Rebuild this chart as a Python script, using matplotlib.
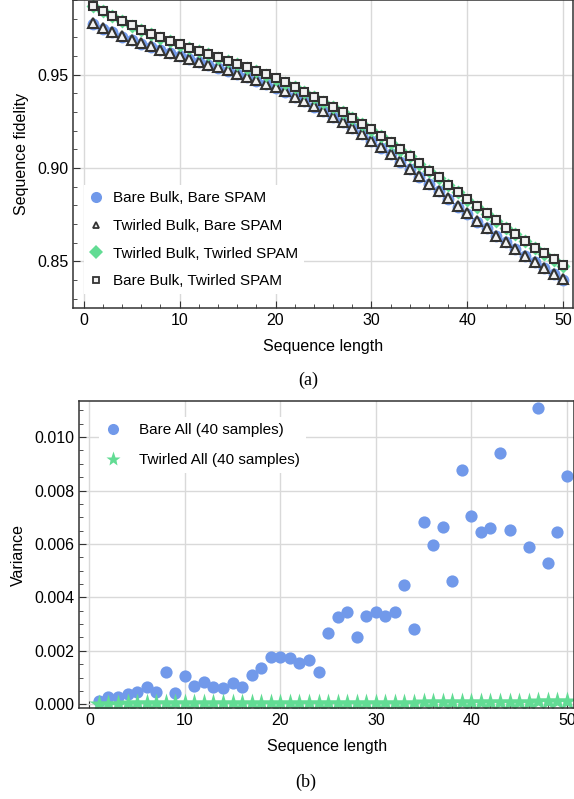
import numpy as np
import matplotlib
matplotlib.use("Agg")
import matplotlib.pyplot as plt

plt.rcParams['font.family'] = ['Liberation Sans', 'DejaVu Sans']
plt.rcParams['font.size'] = 11.5

# %% data
seq_len = np.arange(1, 51)

# (a) sequence fidelity
twirled_bulk_bare_spam = [
    0.9775, 0.9750, 0.9730, 0.9707, 0.9687, 0.9668, 0.9652, 0.9634, 0.9618, 0.9602,
    0.9586, 0.9570, 0.9554, 0.9539, 0.9523, 0.9505, 0.9488, 0.9469, 0.9452, 0.9432,
    0.9411, 0.9382, 0.9361, 0.9332, 0.9306, 0.9275, 0.9247, 0.9215, 0.9183, 0.9147,
    0.9111, 0.9076, 0.9035, 0.8996, 0.8955, 0.8917, 0.8878, 0.8839, 0.8795, 0.8758,
    0.8715, 0.8679, 0.8638, 0.8606, 0.8567, 0.8531, 0.8499, 0.8465, 0.8433, 0.8403]
bare_bulk_bare_spam = [
    0.9772, 0.9747, 0.9727, 0.9704, 0.9684, 0.9665, 0.9649, 0.9631, 0.9615, 0.9599,
    0.9583, 0.9567, 0.9551, 0.9536, 0.9520, 0.9502, 0.9485, 0.9466, 0.9449, 0.9429,
    0.9408, 0.9379, 0.9358, 0.9329, 0.9303, 0.9272, 0.9244, 0.9212, 0.9180, 0.9144,
    0.9108, 0.9073, 0.9032, 0.8993, 0.8952, 0.8914, 0.8875, 0.8836, 0.8792, 0.8755,
    0.8712, 0.8676, 0.8635, 0.8603, 0.8564, 0.8528, 0.8496, 0.8462, 0.8430, 0.8400]
bare_bulk_twirled_spam = [
    0.9869, 0.9841, 0.9814, 0.9787, 0.9764, 0.9739, 0.9719, 0.9700, 0.9680, 0.9662,
    0.9644, 0.9627, 0.9611, 0.9593, 0.9575, 0.9557, 0.9539, 0.9520, 0.9502, 0.9480,
    0.9459, 0.9436, 0.9409, 0.9382, 0.9357, 0.9329, 0.9302, 0.9270, 0.9238, 0.9207,
    0.9174, 0.9138, 0.9100, 0.9065, 0.9025, 0.8986, 0.8951, 0.8910, 0.8874, 0.8833,
    0.8794, 0.8758, 0.8719, 0.8679, 0.8647, 0.8610, 0.8573, 0.8544, 0.8510, 0.8478]
twirled_bulk_twirled_spam = [
    0.9867, 0.9839, 0.9812, 0.9785, 0.9762, 0.9737, 0.9717, 0.9698, 0.9678, 0.9660,
    0.9642, 0.9625, 0.9609, 0.9591, 0.9573, 0.9555, 0.9537, 0.9518, 0.9500, 0.9478,
    0.9457, 0.9434, 0.9407, 0.9380, 0.9355, 0.9327, 0.9300, 0.9268, 0.9236, 0.9205,
    0.9172, 0.9136, 0.9098, 0.9063, 0.9023, 0.8984, 0.8949, 0.8908, 0.8872, 0.8831,
    0.8792, 0.8756, 0.8717, 0.8677, 0.8645, 0.8608, 0.8571, 0.8542, 0.8508, 0.8476]

# (b) variance over 40 samples
bare_all_var = [
    0.00013, 0.00028, 0.00028, 0.00037, 0.00045, 0.00063, 0.00044, 0.00119, 0.00043, 0.00106,
    0.00070, 0.00082, 0.00063, 0.00059, 0.00078, 0.00063, 0.00111, 0.00135, 0.00177, 0.00177,
    0.00172, 0.00154, 0.00166, 0.00121, 0.00268, 0.00326, 0.00344, 0.00253, 0.00329, 0.00346,
    0.00329, 0.00347, 0.00445, 0.00283, 0.00682, 0.00597, 0.00662, 0.00460, 0.00878, 0.00706,
    0.00646, 0.00660, 0.00941, 0.00652, 0.01220, 0.00587, 0.01108, 0.00528, 0.00646, 0.00854]
twirled_all_var = [
    0.00002, 0.00002, 0.00002, 0.00003, 0.00003, 0.00003, 0.00003, 0.00003, 0.00003, 0.00003,
    0.00003, 0.00003, 0.00003, 0.00003, 0.00003, 0.00004, 0.00004, 0.00004, 0.00004, 0.00004,
    0.00004, 0.00004, 0.00004, 0.00004, 0.00005, 0.00005, 0.00005, 0.00005, 0.00005, 0.00006,
    0.00006, 0.00006, 0.00006, 0.00006, 0.00007, 0.00007, 0.00007, 0.00007, 0.00008, 0.00008,
    0.00009, 0.00009, 0.00009, 0.00010, 0.00010, 0.00010, 0.00011, 0.00011, 0.00012, 0.00012]

blue = '#7199ea'
green = '#62dc94'
dark = '#333333'

fig = plt.figure(figsize=(5.74, 7.99), dpi=100)
ax1 = fig.add_axes([0.1272, 0.6145, 0.8711, 0.3855])
ax2 = fig.add_axes([0.1382, 0.1139, 0.8618, 0.3842])


def style(ax):
    ax.grid(True, color='#d9d9d9', lw=1.0)
    ax.set_axisbelow(True)
    for s in ax.spines.values():
        s.set_color(dark)
        s.set_linewidth(1.1)
    ax.tick_params(direction='in', which='both', color=dark, labelsize=11.5)
    ax.tick_params(which='major', length=5)
    ax.tick_params(which='minor', length=3)


# %% (a)
ax1.plot(seq_len, bare_bulk_bare_spam, 'o', ms=8.5, color=blue, mec='none', label='Bare Bulk, Bare SPAM')
ax1.plot(seq_len, twirled_bulk_bare_spam, '^', ms=6.5, mfc='#f2f2f2', mec=dark, mew=1.5,
         label='Twirled Bulk, Bare SPAM')
ax1.plot(seq_len, twirled_bulk_twirled_spam, 'D', ms=7.5, color=green, mec='none',
         label='Twirled Bulk, Twirled SPAM')
ax1.plot(seq_len, bare_bulk_twirled_spam, 's', ms=5.8, mfc='#f2f2f2', mec=dark, mew=1.5,
         label='Bare Bulk, Twirled SPAM')
ax1.set_xlim(-1.1, 51.0)
ax1.set_ylim(0.825, 0.9896)
ax1.set_xticks(range(0, 51, 10))
ax1.set_xticks(range(0, 51, 2), minor=True)
ax1.set_yticks([0.85, 0.90, 0.95])
ax1.set_yticks(np.arange(0.83, 0.99, 0.01), minor=True)
ax1.set_yticklabels(['0.85', '0.90', '0.95'])
style(ax1)
ax1.set_xlabel('Sequence length', labelpad=8)
ax1.set_ylabel('Sequence fidelity', labelpad=6)
leg1 = ax1.legend(loc='lower left', bbox_to_anchor=(0.021, 0.044), frameon=True, framealpha=1,
                  edgecolor='none', fancybox=False, handlelength=0.9, handletextpad=0.6,
                  labelspacing=0.9, borderpad=0.4, borderaxespad=0, fontsize=11)
for h, s in zip(leg1.legend_handles, [8, 4.5, 7, 4.2]):
    h.set_markersize(s)
    h.set_markeredgewidth(1.3)

# %% (b)
ax2.plot(seq_len, bare_all_var, 'o', ms=8.8, color=blue, mec='none', label='Bare All (40 samples)')
ax2.plot(seq_len, twirled_all_var, '*', ms=15, color=green, mec='none', label='Twirled All (40 samples)')
ax2.set_xlim(-1.05, 50.75)
ax2.set_ylim(-0.00014, 0.01135)
ax2.set_xticks(range(0, 51, 10))
ax2.set_xticks(range(0, 51, 2), minor=True)
ax2.set_yticks(np.arange(0, 0.0101, 0.002))
ax2.set_yticklabels(['0.000', '0.002', '0.004', '0.006', '0.008', '0.010'])
ax2.set_yticks(np.arange(0, 0.0113, 0.0005), minor=True)
style(ax2)
ax2.set_xlabel('Sequence length', labelpad=8)
ax2.set_ylabel('Variance', labelpad=6)
leg2 = ax2.legend(loc='upper left', bbox_to_anchor=(0.04, 0.948), frameon=True, framealpha=1,
                  edgecolor='none', fancybox=False, handlelength=1.0, handletextpad=1.2,
                  labelspacing=1.05, borderpad=0.4, borderaxespad=0, fontsize=11)
for h, s in zip(leg2.legend_handles, [8, 11]):
    h.set_markersize(s)

fig.text(0.537, 0.5244, '(a)', ha='center', va='center', fontsize=13, family='Liberation Serif')
fig.text(0.533, 0.0213, '(b)', ha='center', va='center', fontsize=13, family='Liberation Serif')

fig.savefig('out.png', dpi=100)
